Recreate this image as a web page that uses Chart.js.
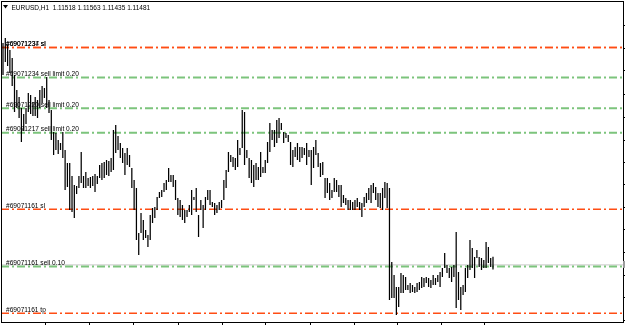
<!DOCTYPE html>
<html lang="en">
<head>
<meta charset="UTF-8">
<title>EURUSD,H1</title>
<script src="https://cdn.jsdelivr.net/npm/chart.js"></script>
<style>
  html, body { margin: 0; padding: 0; background: #fff; }
</style>
</head>
<body>
<canvas id="chart" width="625" height="325"></canvas>
<script>
// header: symbol and last bar O H L C
const symbolTitle = "EURUSD,H1";
const lastBar = [1.11518, 1.11563, 1.11435, 1.11481];

// bar highs / lows, oldest first
const highs = [
  1.1370,1.1375,1.1368,1.1363,1.1355,1.1338,1.1323,1.1316,1.1305,1.1299,
  1.1305,1.1320,1.1318,1.1311,1.1316,1.1313,1.1323,1.1327,1.1325,1.1336,
  1.1313,1.1303,1.1281,1.1280,1.1273,1.1270,1.1281,1.1263,1.1250,1.1250,
  1.1237,1.1228,1.1227,1.1237,1.1261,1.1237,1.1241,1.1235,1.1236,1.1237,
  1.1239,1.1237,1.1248,1.1250,1.1251,1.1253,1.1252,1.1255,1.1283,1.1288,
  1.1277,1.1270,1.1265,1.1260,1.1265,1.1258,1.1245,1.1233,1.1225,1.1180,
  1.1200,1.1193,1.1183,1.1178,1.1198,1.1205,1.1206,1.1216,1.1221,1.1223,
  1.1230,1.1233,1.1245,1.1238,1.1238,1.1233,1.1215,1.1213,1.1208,1.1203,
  1.1203,1.1208,1.1223,1.1216,1.1225,1.1198,1.1213,1.1208,1.1216,1.1223,
  1.1223,1.1211,1.1210,1.1208,1.1211,1.1213,1.1233,1.1243,1.1261,1.1258,
  1.1256,1.1255,1.1273,1.1265,1.1303,1.1301,1.1263,1.1255,1.1253,1.1248,
  1.1250,1.1246,1.1261,1.1246,1.1253,1.1271,1.1290,1.1283,1.1283,1.1293,
  1.1295,1.1290,1.1281,1.1280,1.1278,1.1271,1.1263,1.1266,1.1270,1.1266,
  1.1266,1.1265,1.1270,1.1263,1.1263,1.1266,1.1273,1.1260,1.1250,1.1251,
  1.1235,1.1235,1.1230,1.1223,1.1235,1.1233,1.1228,1.1228,1.1218,1.1215,
  1.1213,1.1213,1.1211,1.1213,1.1215,1.1211,1.1210,1.1216,1.1220,1.1225,
  1.1228,1.1230,1.1226,1.1220,1.1220,1.1225,1.1231,1.1230,1.1225,1.1151,
  1.1138,1.1126,1.1126,1.1140,1.1138,1.1136,1.1128,1.1130,1.1128,1.1126,
  1.1130,1.1131,1.1136,1.1135,1.1136,1.1135,1.1133,1.1138,1.1135,1.1138,
  1.1141,1.1145,1.1160,1.1148,1.1145,1.1146,1.1148,1.1181,1.1141,1.1126,
  1.1128,1.1145,1.1148,1.1173,1.1165,1.1156,1.1163,1.1156,1.1155,1.1153,
  1.1171,1.1166,1.1155,1.11563
];
const lows = [
  1.1338,1.1351,1.1347,1.1340,1.1327,1.1301,1.1305,1.1295,1.1271,1.1282,
  1.1289,1.1301,1.1299,1.1297,1.1297,1.1295,1.1305,1.1310,1.1315,1.1305,
  1.1300,1.1273,1.1258,1.1263,1.1259,1.1263,1.1255,1.1223,1.1226,1.1203,
  1.1201,1.1195,1.1219,1.1225,1.1230,1.1225,1.1225,1.1227,1.1225,1.1227,
  1.1221,1.1229,1.1235,1.1233,1.1235,1.1238,1.1237,1.1241,1.1243,1.1260,
  1.1263,1.1255,1.1250,1.1238,1.1248,1.1246,1.1225,1.1203,1.1173,1.1158,
  1.1180,1.1173,1.1175,1.1166,1.1173,1.1190,1.1195,1.1203,1.1215,1.1216,
  1.1221,1.1223,1.1231,1.1231,1.1226,1.1213,1.1198,1.1196,1.1193,1.1190,
  1.1196,1.1201,1.1198,1.1213,1.1201,1.1176,1.1203,1.1185,1.1203,1.1213,
  1.1208,1.1206,1.1198,1.1200,1.1203,1.1205,1.1213,1.1225,1.1241,1.1251,
  1.1246,1.1243,1.1246,1.1258,1.1265,1.1248,1.1255,1.1235,1.1230,1.1226,
  1.1233,1.1233,1.1236,1.1240,1.1240,1.1250,1.1261,1.1273,1.1266,1.1270,
  1.1275,1.1283,1.1270,1.1275,1.1271,1.1248,1.1246,1.1256,1.1253,1.1251,
  1.1255,1.1258,1.1248,1.1256,1.1228,1.1245,1.1258,1.1246,1.1236,1.1238,
  1.1215,1.1220,1.1213,1.1215,1.1221,1.1221,1.1216,1.1206,1.1210,1.1208,
  1.1203,1.1203,1.1203,1.1203,1.1206,1.1203,1.1196,1.1206,1.1210,1.1213,
  1.1210,1.1220,1.1213,1.1206,1.1205,1.1203,1.1215,1.1205,1.1113,1.1115,
  1.1115,1.1098,1.1106,1.1120,1.1120,1.1123,1.1123,1.1120,1.1121,1.1120,
  1.1121,1.1123,1.1125,1.1126,1.1130,1.1126,1.1125,1.1128,1.1128,1.1131,
  1.1126,1.1136,1.1145,1.1140,1.1135,1.1131,1.1136,1.1105,1.1113,1.1103,
  1.1118,1.1121,1.1135,1.1143,1.1145,1.1135,1.1155,1.1146,1.1143,1.1145,
  1.1145,1.1150,1.1146,1.11435
];

// order lines on the chart
const bidPrice = 1.11481;
const levelPrices = [1.13655, 1.13655, 1.13355, 1.13047, 1.12803, 1.12037, 1.11465, 1.10997];
const levelLabels = [
  "#69071237 sl", "#69071234 sl",
  "#69071234 sell limit 0.20", "#69071220 sell limit 0.20", "#69071217 sell limit 0.20",
  "#69071161 sl", "#69071161 sell 0.10", "#69071161 tp"
];
const levelKinds = ["stop", "stop", "order", "order", "order", "stop", "order", "stop"];

// axis marks (no labels visible in the picture)
const xTickValues = [18.3, 37.4, 56.9, 76.1, 95.2, 114.3, 133.5, 152.6, 171.5, 190.4, 209.5];
const yTickValues = [1.1387, 1.13645, 1.1342, 1.1319, 1.1296, 1.1273, 1.12507, 1.1228,
                     1.12057, 1.1183, 1.11607, 1.1138, 1.11153, 1.1093];

const X_MIN = -0.87, X_MAX = 269.95;
const Y_MIN = 1.1090, Y_MAX = 1.1412;

const kindColor = { stop: '#ff4d14', order: '#7cc47c' };
const kindWidth = { stop: 1.5, order: 2 };

const levelSets = levelPrices.map((p, i) => ({
    type: 'line',
    data: [{ x: X_MIN, y: p }, { x: X_MAX, y: p }],
    borderColor: kindColor[levelKinds[i]],
    borderWidth: kindWidth[levelKinds[i]],
    borderDash: [8, 3, 2, 3],
    pointRadius: 0,
    fill: false,
    order: 2
}));

const bidSet = {
    type: 'line',
    data: [{ x: X_MIN, y: bidPrice }, { x: X_MAX, y: bidPrice }],
    borderColor: '#c8c8c8',
    borderWidth: 1,
    pointRadius: 0,
    fill: false,
    order: 3
};

const barSet = {
    type: 'bar',
    data: highs.map((h, i) => ({ x: i, y: [lows[i], h] })),
    backgroundColor: '#000',
    borderWidth: 0,
    barThickness: 1.25,
    inflateAmount: 0,
    order: 1
};

const mt4Overlay = {
    id: 'mt4Overlay',
    afterDraw(chart) {
        const { ctx, chartArea: a, scales: { y } } = chart;
        ctx.save();

        // frame
        ctx.strokeStyle = '#000';
        ctx.lineWidth = 1;
        ctx.strokeRect(a.left + 0.5, a.top + 0.5, a.right - a.left - 1, a.bottom - a.top - 1);

        // bid tag at right edge
        const by = y.getPixelForValue(bidPrice);
        ctx.fillStyle = '#9c9c9c';
        ctx.fillRect(a.right - 1, by - 4, 4, 7);

        // level labels
        ctx.fillStyle = '#000';
        ctx.textBaseline = 'alphabetic';
        ctx.font = "6.6px 'Liberation Sans', Arial, sans-serif";
        levelPrices.forEach((p, i) => {
            ctx.fillText(levelLabels[i], a.left + 5, y.getPixelForValue(p) - 1.5);
        });

        // header
        ctx.beginPath();
        ctx.moveTo(3, 5); ctx.lineTo(8, 5); ctx.lineTo(5.5, 8.5); ctx.closePath();
        ctx.fill();
        ctx.font = "6.5px 'Liberation Sans', Arial, sans-serif";
        ctx.fillText(symbolTitle + '  ' + lastBar.map(v => v.toFixed(5)).join(' '), 11.5, 9.5);

        ctx.restore();
    }
};

new Chart(document.getElementById('chart'), {
    type: 'bar',
    data: { datasets: [barSet, bidSet, ...levelSets] },
    options: {
        responsive: false,
        animation: false,
        devicePixelRatio: 1,
        layout: { padding: { left: 1, top: 1, right: 0, bottom: 0 } },
        plugins: { legend: { display: false }, tooltip: { enabled: false } },
        scales: {
            x: {
                type: 'linear',
                min: X_MIN, max: X_MAX,
                offset: false,
                grid: { drawOnChartArea: false, drawTicks: true, tickLength: 2, color: '#000', offset: false },
                border: { display: false },
                ticks: { display: false },
                afterBuildTicks: s => { s.ticks = xTickValues.map(v => ({ value: v })); }
            },
            y: {
                position: 'right',
                min: Y_MIN, max: Y_MAX,
                grid: { drawOnChartArea: false, drawTicks: true, tickLength: 1, color: '#000' },
                border: { display: false },
                ticks: { display: false },
                afterBuildTicks: s => { s.ticks = yTickValues.map(v => ({ value: v })); }
            }
        }
    },
    plugins: [mt4Overlay]
});
</script>
</body>
</html>
